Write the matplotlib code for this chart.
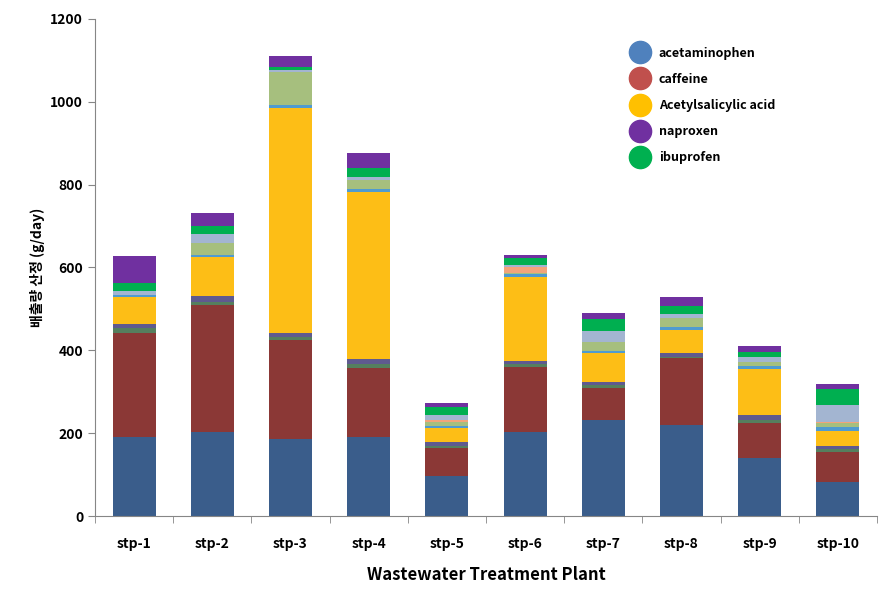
import matplotlib
matplotlib.use("Agg")
import matplotlib.pyplot as plt
from matplotlib.lines import Line2D
import numpy as np

plt.rcParams['font.family'] = ['Noto Sans CJK KR', 'DejaVu Sans']

# 처리장 목록
plants = ['stp-1', 'stp-2', 'stp-3', 'stp-4', 'stp-5',
          'stp-6', 'stp-7', 'stp-8', 'stp-9', 'stp-10']

# 배출량 (g/day) - 아래에서 위로 쌓는 순서
acetaminophen = [191, 204, 185, 191, 97, 203, 232, 220, 140, 83]
caffeine = [251, 306, 240, 166, 68, 156, 76, 161, 85, 72]
other_a = [11, 6, 8, 10, 4, 8, 8, 3, 7, 6]
other_b = [10, 15, 8, 11, 10, 8, 8, 10, 12, 8]
acetylsalicylic = [65, 95, 543, 405, 33, 201, 70, 55, 110, 37]
other_c = [5, 4, 8, 6, 6, 8, 5, 8, 8, 8]
other_d = [0, 28, 79, 22, 8, 2, 22, 20, 11, 10]
other_e = [0, 0, 0, 0, 6, 15, 0, 0, 0, 4]
other_f = [11, 24, 6, 8, 12, 5, 26, 10, 12, 40]
ibuprofen = [18, 19, 8, 22, 18, 16, 28, 20, 12, 38]
naproxen = [66, 31, 26, 35, 12, 8, 14, 21, 13, 12]

stack = [
    (acetaminophen, '#3A5D8B'),
    (caffeine, '#8B3836'),
    (other_a, '#557F5E'),
    (other_b, '#5F5A8F'),
    (acetylsalicylic, '#FDBE16'),
    (other_c, '#4F9BD0'),
    (other_d, '#A6BF7E'),
    (other_e, '#F2A47A'),
    (other_f, '#A3B5D1'),
    (ibuprofen, '#00AF50'),
    (naproxen, '#7030A0'),
]

# 범례 항목
legend_names = ['acetaminophen', 'caffeine', 'Acetylsalicylic acid', 'naproxen', 'ibuprofen']
legend_colors = ['#4F81BD', '#C0504D', '#FFC000', '#7030A0', '#00B050']

fig = plt.figure(figsize=(8.9, 5.91), dpi=100)
ax = fig.add_axes([0.1067, 0.1269, 0.8787, 0.841])

x = np.arange(len(plants))
bottom = np.zeros(len(plants))
for vals, col in stack:
    ax.bar(x, vals, 0.55, bottom=bottom, color=col, linewidth=0)
    bottom += np.array(vals)

ax.set_xlim(-0.5, len(plants) - 0.5)
ax.set_ylim(0, 1200)
ax.set_yticks(range(0, 1201, 200))

ax.set_xticks(x)
ax.set_xticklabels(plants, fontsize=10, fontweight='bold')
ax.set_xticks(np.arange(-0.5, len(plants)), minor=True)
ax.tick_params(axis='x', which='major', length=0, pad=15)
ax.tick_params(axis='x', which='minor', length=5, color='#868686')
ax.tick_params(axis='y', length=5, color='#868686', labelsize=10)
for lab in ax.get_yticklabels():
    lab.set_fontweight('bold')

for s in ['top', 'right']:
    ax.spines[s].set_visible(False)
for s in ['left', 'bottom']:
    ax.spines[s].set_color('#868686')

ax.set_xlabel('Wastewater Treatment Plant', fontsize=12, fontweight='bold', labelpad=11)
ax.set_ylabel('배출량 산정 (g/day)', fontsize=10, fontweight='bold', labelpad=4)

handles = [Line2D([], [], marker='o', linestyle='none', markersize=16,
                  markerfacecolor=c, markeredgecolor=c) for c in legend_colors]
leg = fig.legend(handles, legend_names, loc='upper left',
                 bbox_to_anchor=(0.698, 0.94), frameon=False,
                 prop={'size': 9, 'weight': 'bold'},
                 labelspacing=1.05, handletextpad=0.9, handlelength=1.2)

fig.savefig('out.png', dpi=100)
